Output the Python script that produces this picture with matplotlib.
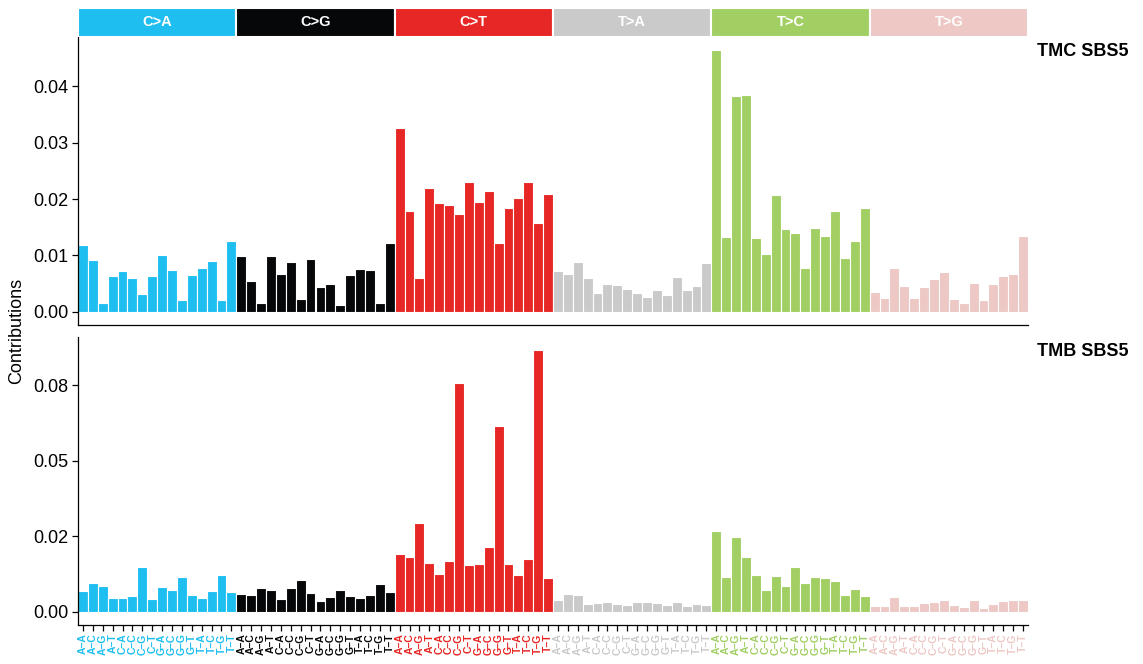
import matplotlib
matplotlib.use("Agg")
import matplotlib.pyplot as plt
import numpy as np

plt.rcParams['font.family'] = ['Liberation Sans', 'DejaVu Sans']

# substitution groups and their colours
groups = ["C>A", "C>G", "C>T", "T>A", "T>C", "T>G"]
group_colors = ["#1EBFF0", "#050708", "#E62725", "#CBCACB", "#A1CF64", "#EDC8C5"]

# trinucleotide context labels (5' base, 3' base)
bases = ["A", "C", "G", "T"]
contexts = [f"{a}\u2013{b}" for a in bases for b in bases]

# TMC SBS5 contributions, 16 per group
tmc_ca = [0.0118, 0.0092, 0.0016, 0.0064, 0.0072, 0.0060, 0.0032, 0.0063, 0.0100, 0.0074, 0.0021, 0.0066, 0.0077, 0.0090, 0.0021, 0.0125]
tmc_cg = [0.0099, 0.0055, 0.0015, 0.0099, 0.0068, 0.0089, 0.0022, 0.0093, 0.0045, 0.0049, 0.0013, 0.0065, 0.0076, 0.0074, 0.0015, 0.0123]
tmc_ct = [0.0326, 0.0179, 0.0060, 0.0219, 0.0193, 0.0189, 0.0174, 0.0230, 0.0194, 0.0215, 0.0122, 0.0185, 0.0202, 0.0230, 0.0158, 0.0209]
tmc_ta = [0.0072, 0.0067, 0.0089, 0.0060, 0.0033, 0.0050, 0.0048, 0.0040, 0.0034, 0.0027, 0.0038, 0.0030, 0.0062, 0.0039, 0.0046, 0.0086]
tmc_tc = [0.0464, 0.0133, 0.0383, 0.0384, 0.0131, 0.0102, 0.0207, 0.0147, 0.0139, 0.0078, 0.0148, 0.0135, 0.0179, 0.0096, 0.0125, 0.0184]
tmc_tg = [0.0036, 0.0024, 0.0078, 0.0046, 0.0024, 0.0044, 0.0059, 0.0070, 0.0022, 0.0015, 0.0051, 0.0021, 0.0050, 0.0063, 0.0067, 0.0134]

# TMB SBS5 contributions
tmb_ca = [0.0069, 0.0094, 0.0085, 0.0046, 0.0045, 0.0052, 0.0147, 0.0041, 0.0082, 0.0074, 0.0114, 0.0055, 0.0045, 0.0069, 0.0122, 0.0066]
tmb_cg = [0.0058, 0.0055, 0.0080, 0.0073, 0.0042, 0.0080, 0.0105, 0.0062, 0.0035, 0.0048, 0.0073, 0.0054, 0.0045, 0.0055, 0.0091, 0.0065]
tmb_ct = [0.0191, 0.0183, 0.0294, 0.0162, 0.0124, 0.0170, 0.0758, 0.0154, 0.0158, 0.0215, 0.0616, 0.0157, 0.0122, 0.0176, 0.0868, 0.0111]
tmb_ta = [0.0040, 0.0059, 0.0055, 0.0025, 0.0029, 0.0032, 0.0025, 0.0022, 0.0034, 0.0032, 0.0029, 0.0022, 0.0032, 0.0021, 0.0025, 0.0023]
tmb_tc = [0.0268, 0.0117, 0.0248, 0.0181, 0.0121, 0.0071, 0.0120, 0.0086, 0.0147, 0.0097, 0.0116, 0.0111, 0.0101, 0.0056, 0.0077, 0.0054]
tmb_tg = [0.0019, 0.0019, 0.0049, 0.0019, 0.0019, 0.0028, 0.0032, 0.0040, 0.0022, 0.0017, 0.0038, 0.0014, 0.0025, 0.0035, 0.0040, 0.0038]

tmc = [tmc_ca, tmc_cg, tmc_ct, tmc_ta, tmc_tc, tmc_tg]
tmb = [tmb_ca, tmb_cg, tmb_ct, tmb_ta, tmb_tc, tmb_tg]

tmc_ticks = [0.0, 0.01, 0.02, 0.03, 0.04]
tmc_ticklabels = ["0.00", "0.01", "0.02", "0.03", "0.04"]
tmb_ticks = [0.0, 0.025, 0.05, 0.075]
tmb_ticklabels = ["0.00", "0.02", "0.05", "0.08"]

W, H = 1143, 664
fig = plt.figure(figsize=(W / 100, H / 100), dpi=100)

def fx(px):
    return px / W

def fy(px):
    return 1 - px / H

left, right = 78, 1028
ax_top = fig.add_axes([fx(left), fy(325), fx(right - left), (325 - 37) / H])
ax_bot = fig.add_axes([fx(left), fy(625), fx(right - left), (625 - 336.5) / H])
ax_strip = fig.add_axes([fx(left), fy(37), fx(right - left), (37 - 8) / H])

n = len(contexts)
x_all = np.arange(n * len(groups))


def draw_panel(ax, values, ticks, ticklabels):
    for g, vals in enumerate(values):
        xs = np.arange(g * n, (g + 1) * n)
        ax.bar(xs, vals, width=1.0, color=group_colors[g], edgecolor="white", linewidth=0.8)
    allv = np.concatenate([np.array(v) for v in values])
    # ggplot-style 5% expansion
    pad = 0.05 * allv.max()
    ax.set_ylim(-pad, allv.max() + pad)
    ax.set_xlim(-0.5, n * len(groups) - 0.5)
    ax.set_yticks(ticks)
    ax.set_yticklabels(ticklabels, fontsize=13)
    for s in ["top", "right"]:
        ax.spines[s].set_visible(False)
    ax.spines["left"].set_linewidth(0.9)
    ax.spines["bottom"].set_linewidth(0.9)
    ax.tick_params(axis="y", length=4, width=0.9, pad=3)


draw_panel(ax_top, tmc, tmc_ticks, tmc_ticklabels)
draw_panel(ax_bot, tmb, tmb_ticks, tmb_ticklabels)

ax_top.set_xticks([])

ax_bot.set_xticks(x_all)
ax_bot.set_xticklabels(contexts * len(groups), rotation=90, fontsize=7.5, fontweight="bold")
for i, lab in enumerate(ax_bot.get_xticklabels()):
    lab.set_color(group_colors[i // n])
ax_bot.tick_params(axis="x", length=4, width=0.9, pad=2)

# substitution strips on top
for g, name in enumerate(groups):
    ax_strip.bar(g * n + (n - 1) / 2, 1, width=n, color=group_colors[g], edgecolor="white", linewidth=1.5)
    ax_strip.text(g * n + (n - 1) / 2, 0.5, name, color="white", fontsize=10.5, fontweight="bold", ha="center", va="center")
ax_strip.set_xlim(-0.5, n * len(groups) - 0.5)
ax_strip.set_ylim(0, 1)
ax_strip.axis("off")

fig.text(fx(1037), fy(52), "TMC SBS5", fontsize=13, fontweight="bold", ha="left", va="center")
fig.text(fx(1037), fy(352), "TMB SBS5", fontsize=13, fontweight="bold", ha="left", va="center")
fig.text(fx(17), fy(331), "Contributions", fontsize=13, rotation=90, ha="center", va="center")

fig.savefig("out.png", dpi=100)
